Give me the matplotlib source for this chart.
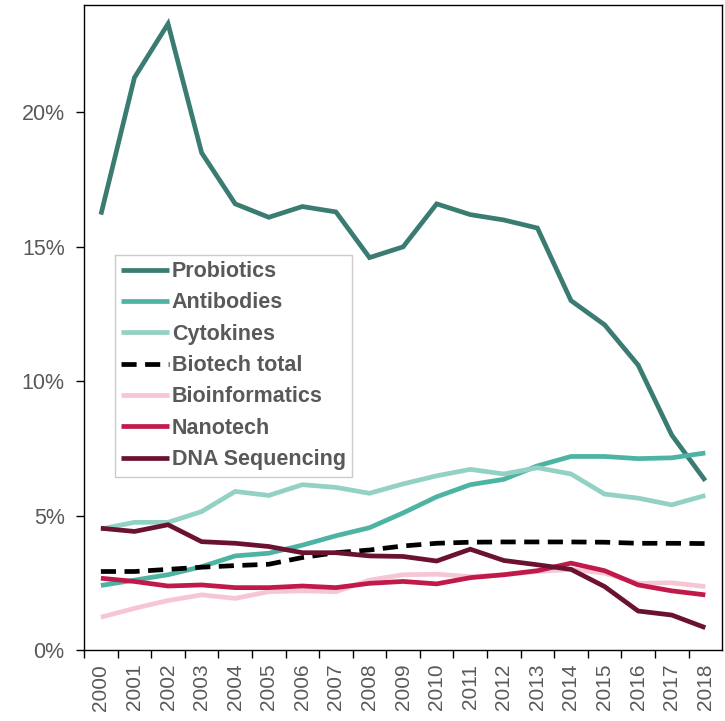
import matplotlib
matplotlib.use("Agg")
import matplotlib.pyplot as plt
from matplotlib.ticker import FixedLocator, FuncFormatter

plt.rcParams['font.family'] = ['Liberation Sans', 'DejaVu Sans']

# === DATA (share of output, %) ===
years = [str(y) for y in range(2000, 2019)]

probiotics = [16.2, 21.3, 23.3, 18.5, 16.6, 16.1, 16.5, 16.3, 14.6, 15.0,
              16.6, 16.2, 16.0, 15.7, 13.0, 12.1, 10.6, 8.0, 6.3]
antibodies = [2.4, 2.6, 2.8, 3.1, 3.5, 3.6, 3.9, 4.25, 4.55, 5.1,
              5.7, 6.15, 6.35, 6.85, 7.2, 7.2, 7.12, 7.15, 7.33]
cytokines = [4.5, 4.75, 4.75, 5.15, 5.9, 5.75, 6.15, 6.05, 5.83, 6.18,
             6.48, 6.72, 6.55, 6.78, 6.55, 5.8, 5.65, 5.4, 5.75]
biotech_total = [2.92, 2.92, 3.0, 3.08, 3.14, 3.19, 3.44, 3.62, 3.72, 3.87,
                 3.97, 4.01, 4.02, 4.02, 4.02, 4.01, 3.97, 3.97, 3.96]
bioinformatics = [1.22, 1.55, 1.84, 2.05, 1.92, 2.17, 2.2, 2.17, 2.6, 2.8,
                  2.82, 2.73, 2.8, 2.92, 3.0, 2.86, 2.48, 2.5, 2.36]
nanotech = [2.67, 2.55, 2.38, 2.42, 2.32, 2.32, 2.38, 2.32, 2.48, 2.55,
            2.46, 2.69, 2.8, 2.95, 3.23, 2.95, 2.42, 2.2, 2.05]
dna_sequencing = [4.53, 4.41, 4.66, 4.03, 3.97, 3.85, 3.62, 3.62, 3.5, 3.48,
                  3.31, 3.75, 3.33, 3.17, 3.0, 2.36, 1.45, 1.3, 0.83]

series = [
    ("Probiotics", probiotics, "#3a7b72", "-"),
    ("Antibodies", antibodies, "#4db3a3", "-"),
    ("Cytokines", cytokines, "#93d1c4", "-"),
    ("Biotech total", biotech_total, "#000000", "--"),
    ("Bioinformatics", bioinformatics, "#f7c6d4", "-"),
    ("Nanotech", nanotech, "#c0194a", "-"),
    ("DNA Sequencing", dna_sequencing, "#6b1230", "-"),
]

fig = plt.figure(figsize=(7.25, 7.21), dpi=100)
ax = fig.add_axes([0.116, 0.0985, 0.880, 0.8946])

x = list(range(len(years)))
for name, vals, color, ls in series:
    line, = ax.plot(x, vals, color=color, lw=3.4, label=name,
                    solid_joinstyle='miter', solid_capstyle='butt')
    if ls == "--":
        line.set_dashes((3.2, 1.8))

ax.set_xlim(-0.5, len(years) - 0.5)
ax.set_ylim(0, 24)

# category axis: ticks between categories, labels centred
ax.xaxis.set_major_locator(FixedLocator(x))
ax.set_xticklabels(years, rotation=90, color="#595959", fontsize=15)
ax.xaxis.set_minor_locator(FixedLocator([i - 0.5 for i in x]))
ax.tick_params(axis='x', which='major', length=0, pad=10)
ax.tick_params(axis='x', which='minor', length=6, width=1, direction='out')

ax.set_yticks([0, 5, 10, 15, 20])
ax.yaxis.set_major_formatter(FuncFormatter(lambda v, p: f"{int(v)}%"))
ax.tick_params(axis='y', length=6, width=1, direction='out',
               labelcolor="#595959", labelsize=15.5, pad=8)

for sp in ax.spines.values():
    sp.set_linewidth(1)
    sp.set_color("black")

leg = ax.legend(loc='upper left', bbox_to_anchor=(0.048, 0.613),
                borderaxespad=0, frameon=True, fancybox=False,
                handlelength=2.2, handletextpad=0.15, labelspacing=0.48,
                borderpad=0.3, prop={'weight': 'bold', 'size': 15.5})
leg.get_frame().set_edgecolor("#bfbfbf")
leg.get_frame().set_linewidth(1)
for t in leg.get_texts():
    t.set_color("#595959")

fig.savefig("out.png", dpi=100)
